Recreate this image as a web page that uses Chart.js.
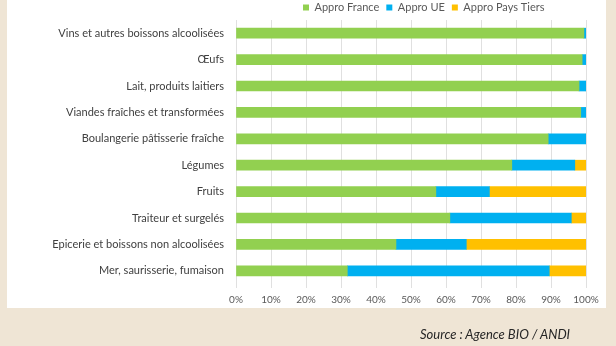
<!DOCTYPE html>
<html><head><meta charset="utf-8">
<script src="https://cdn.jsdelivr.net/npm/chart.js@4/dist/chart.umd.min.js"></script>
<style>
html,body{margin:0;padding:0;background:#efe5d5;width:616px;height:346px;overflow:hidden}
#panel{position:absolute;left:7px;top:0;width:599px;height:308px;background:#fff}
#c{position:absolute;left:0;top:0}
#src{position:absolute;left:420px;top:326px;font-family:Lato,sans-serif;font-style:italic;font-size:13px;color:#262626;white-space:nowrap}
</style></head>
<body>
<div id="panel"></div>
<canvas id="c" width="616" height="346"></canvas>
<div id="src">Source : Agence BIO / ANDI</div>
<script>
const categories = ["Vins et autres boissons alcoolisées","Œufs","Lait, produits laitiers","Viandes fraîches et transformées","Boulangerie pâtisserie fraîche","Légumes","Fruits","Traiteur et surgelés","Epicerie et boissons non alcoolisées","Mer, saurisserie, fumaison"];
const seriesNames = ["Appro France","Appro UE","Appro Pays Tiers"];
const approFrance = [99.4, 98.9, 98.0, 98.5, 89.2, 78.8, 57.1, 61.1, 45.7, 31.8];
const approUE     = [0.6, 1.1, 2.0, 1.5, 10.8, 18.0, 15.3, 34.7, 20.1, 57.7];
const approTiers  = [0, 0, 0, 0, 0, 3.2, 27.6, 4.2, 34.2, 10.5];
const colors = ["#92d050","#00b0f0","#ffc000"];

const legendShift = {
  id:'legendShift',
  afterLayout(chart){
    const lg = chart.legend;
    const w = lg.right - lg.left;
    lg.left = 296; lg.right = 296 + w;
    lg.top += 3; lg.bottom += 3;
  }
};

new Chart(document.getElementById('c'), {
  type:'bar',
  data:{
    labels: categories,
    datasets:[approFrance, approUE, approTiers].map((d,i)=>({
      label: seriesNames[i], data: d, backgroundColor: colors[i], borderWidth:0, barThickness:10
    }))
  },
  plugins:[legendShift],
  options:{
    indexAxis:'y',
    responsive:false,
    animation:false,
    layout:{padding:{top:-8,bottom:38,left:0,right:30}},
    plugins:{
      legend:{position:'top',align:'start',
        labels:{font:{family:'Lato',size:11},color:'#595959',boxWidth:6,boxHeight:6,padding:7}},
      tooltip:{enabled:false}
    },
    scales:{
      x:{stacked:true,min:0,max:100,
        ticks:{stepSize:10,callback:v=>v+'%',font:{family:'Lato',size:10},color:'#595959',padding:6,maxRotation:0},
        grid:{color:'#e0e0e0',tickLength:4},
        border:{display:false},
        afterFit(s){s.height=24;}
      },
      y:{stacked:true,
        ticks:{font:{family:'Lato',size:11},color:'#404040',padding:12},
        grid:{display:false,drawTicks:false},
        border:{display:false},
        afterFit(s){s.width=236;}
      }
    }
  }
});
</script>
</body></html>
